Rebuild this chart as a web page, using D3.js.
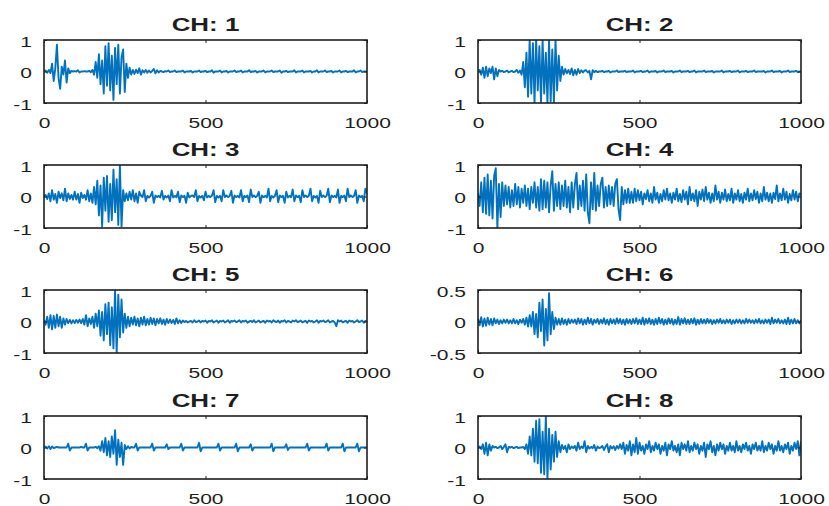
<!DOCTYPE html>
<html>
<head>
<meta charset="utf-8">
<script src="https://cdn.jsdelivr.net/npm/d3@7"></script>
<style>
  body { margin: 0; background: #fff; }
  svg { display: block; font-family: "Liberation Sans", Arial, sans-serif; }
</style>
</head>
<body>
<svg id="chart" width="829" height="506"></svg>
<script>
// one value every 5 samples, samples 0..1000 (201 values per channel)
const sampleStep = 5;

const ch1 = [
  0,.03,-.04,.05,-.05,.25,-.3,.1,.85,-.2,-.55,.15,-.1,.35,-.35,.1,-.05,.02,0,.01,
  0,.04,-.03,0,0,.01,0,0,.02,-.02,.05,-.1,.3,-.2,.55,-.4,.35,-.7,.8,-.45,
  .9,-.6,.5,-.9,.75,-.4,.85,-.7,.45,.7,-.65,.25,-.2,.12,-.1,.05,-.08,.06,-.05,.1,
  -.1,.04,-.03,.05,-.04,.03,-.03,.02,.08,-.06,.04,-.03,.02,0,-.02,.01,0,.03,-.02,0,
  0,.03,-.02,0,0,0,.03,-.03,0,0,0,.02,-.03,0,0,0,.03,-.02,0,0,
  .02,-.02,0,0,.04,-.04,0,0,0,.03,-.03,0,0,.02,-.03,0,0,0,.03,-.02,
  0,0,.03,-.03,0,0,0,.04,-.02,0,0,.02,-.03,0,0,0,.03,-.03,0,0,
  0,.03,-.02,0,0,0,.03,-.04,0,0,.02,-.02,0,0,0,.04,-.03,0,0,0,
  .03,-.03,0,0,0,.02,-.03,0,0,.04,-.03,0,0,0,.03,-.02,0,0,.02,-.03,
  0,0,0,.03,-.03,0,0,.02,-.02,0,0,0,.04,-.03,0,0,.03,-.02,0,0,
  0
];

const ch2 = [
  0,.05,-.1,.12,-.2,.15,-.15,.1,-.05,.15,-.25,.1,-.15,.05,0,.02,-.02,0,.03,-.03,
  0,.02,-.02,0,.05,-.04,.03,-.1,.3,-.5,.6,-.8,1,-.7,.9,-1,1,-.6,.8,-1,
  1,-.7,.6,-1,1,-.95,.7,-1,1,-.6,.5,-.3,.15,-.1,.08,-.06,.05,-.08,.1,-.12,
  .05,-.1,.08,-.05,.04,-.03,.03,.04,-.03,.02,-.25,.04,-.02,.02,-.02,0,0,.02,-.02,0,
  0,.02,-.03,0,0,0,.03,-.02,0,0,0,.02,-.02,0,0,0,.03,-.03,0,0,
  0,.02,-.02,0,0,.03,-.03,0,0,0,.02,-.03,0,0,0,.03,-.02,0,0,0,
  .02,-.03,0,0,0,.03,-.02,0,0,0,.02,-.02,0,0,.03,-.03,0,0,0,0,
  .03,-.02,0,0,0,.02,-.03,0,0,0,0,.03,-.03,0,0,0,.02,-.02,0,0,
  0,.03,-.03,0,0,0,.02,-.02,0,0,0,.03,-.02,0,0,0,0,.02,-.03,0,
  0,0,.03,-.02,0,0,0,.02,-.03,0,0,0,.03,-.02,0,0,0,.02,-.02,0,
  0
];

const ch3 = [
  0,.05,-.08,.1,-.15,.2,-.1,.08,-.2,.15,-.05,.1,-.12,.25,-.15,.1,-.08,.05,-.1,.15,
  -.1,.08,-.2,.12,-.05,.05,-.1,.2,-.15,.1,-.2,.3,-.25,.5,-.6,.35,-.95,.6,-.45,.65,
  -.8,.4,-.75,.85,-.5,.55,-.9,1,-.95,.2,-.15,.1,-.12,.15,-.1,.2,-.15,.1,-.2,.15,
  .03,-.02,.2,-.15,.02,-.03,.02,.15,-.2,.03,-.02,.02,-.03,.18,-.1,.02,-.03,.03,-.15,.2,
  -.03,.02,-.02,.15,-.18,.03,-.02,.02,-.2,.12,-.03,.02,.03,-.02,.2,-.15,.02,-.03,.02,-.12,
  .15,-.03,.02,-.02,.03,.2,-.18,.02,-.03,.02,-.15,.2,-.02,.03,-.02,.02,.18,-.2,.03,-.02,
  .02,-.03,.2,-.15,.02,-.02,.03,-.18,.22,-.02,.03,-.02,.02,.15,-.2,.03,-.02,.02,-.03,.25,
  -.15,.02,-.03,.02,.2,-.18,.03,-.02,.02,-.2,.15,-.03,.02,-.02,.22,-.15,.03,-.02,.02,-.18,
  .2,-.02,.03,-.02,.02,.25,-.15,.02,-.03,.02,-.2,.18,-.02,.03,-.02,.02,.25,-.18,.03,-.02,
  .02,-.03,.22,-.2,.02,-.02,.03,-.15,.25,-.02,.03,-.02,.02,.2,-.2,.03,-.02,.02,-.15,.25,
  .1
];

const ch4 = [
  .1,-.3,.45,-.5,.6,-.55,.7,-.6,.5,-.7,.65,.9,-1,.4,-.65,.45,-.3,.35,-.25,.3,
  -.35,.2,-.3,.4,-.25,.3,-.35,.25,-.2,.35,-.3,.25,-.4,.3,-.2,.45,-.35,.3,-.45,.55,
  -.4,.5,-.35,.45,-.5,.35,.8,-.45,.4,-.3,.45,-.4,.35,-.3,.5,-.35,.3,-.5,.45,-.35,
  .4,.75,-.4,.35,-.3,.5,-.45,.7,-.5,-.85,.45,-.4,.75,-.45,.35,-.3,.4,.6,-.35,.3,
  -.3,.35,-.25,.3,-.3,.4,.55,-.4,-.75,.3,-.25,.2,-.2,.25,-.2,.15,-.2,.25,-.15,.2,
  -.12,.15,-.25,.1,-.08,.2,-.15,.1,-.2,.3,-.1,.12,-.2,.08,-.15,.2,-.1,.25,-.12,.1,
  -.2,.12,-.1,.25,-.15,.08,-.18,.2,-.1,.15,-.25,.3,-.12,.1,-.15,.2,-.3,.15,-.1,.22,
  -.15,.3,-.1,.12,-.2,.1,-.15,.35,-.1,.15,-.2,.12,-.1,.22,-.15,.08,-.12,.25,-.2,.1,
  -.1,.2,-.15,.08,-.2,.12,-.1,.25,-.15,.1,-.12,.2,-.08,.15,-.2,.1,-.15,.3,-.1,.12,
  -.15,.1,-.2,.12,-.08,.35,-.15,.1,-.12,.25,-.1,.15,-.2,.08,-.12,.2,-.1,.15,-.15,.1,
  .05
];

const ch5 = [
  .05,-.1,.15,-.2,.2,-.25,.18,-.2,.22,-.15,.15,-.2,.1,-.1,.08,-.05,.05,-.06,.04,-.05,
  .05,-.04,.06,-.05,.08,-.1,.2,-.15,.1,-.08,.15,-.2,.25,-.15,.35,-.45,.3,-.6,.55,-.4,
  .6,-.75,.45,-.85,1,-1,.85,-.5,.7,-.35,.25,-.2,.15,-.15,.12,-.1,.15,-.12,.1,-.15,
  .12,-.1,.15,-.12,.08,-.1,.12,-.08,.1,-.12,.08,-.06,.1,-.08,.06,-.1,.08,-.05,.06,-.05,
  .05,-.08,.1,-.06,.04,-.05,.03,-.02,.02,-.03,0,.02,-.03,.04,-.02,0,.03,-.03,.02,0,
  .03,-.04,.02,0,.04,-.03,0,.03,-.04,.02,0,.03,-.03,0,.04,-.04,.02,0,.03,-.02,
  0,.04,-.03,.02,0,.03,-.04,0,.02,-.02,.04,-.03,0,.03,-.03,0,.02,-.04,.03,0,
  .02,-.03,.04,0,-.02,.03,-.04,.02,0,.04,-.03,.02,0,-.03,.03,0,.04,-.02,0,.03,
  -.03,0,.02,-.04,.03,0,.02,-.03,0,.04,-.04,.02,0,.03,-.02,0,.04,-.03,0,.02,
  -.03,-.15,.04,0,.03,-.03,0,.02,-.04,.03,0,.02,-.03,0,.04,-.02,0,.03,-.04,.02,
  0
];

const ch6 = [
  .05,-.06,.07,-.08,.05,-.07,.06,-.05,.04,-.06,.05,-.03,.03,-.04,.02,-.03,.03,-.02,.03,-.03,
  .02,-.03,.04,-.03,.02,-.04,.03,-.02,.04,-.05,.06,-.08,.1,-.08,.15,-.2,.12,-.25,.3,-.15,
  .35,-.38,.2,-.3,.45,-.2,.15,-.12,.06,-.05,.04,-.05,.05,-.04,.03,-.05,.04,-.03,.03,-.02,
  .03,-.04,.05,-.03,.04,-.05,.03,-.04,.06,-.03,.04,-.05,.03,-.02,.04,-.04,.03,-.03,.05,-.04,
  .03,-.05,.04,-.03,.03,-.04,.05,-.03,.04,-.04,.03,-.05,.04,-.03,.03,-.04,.04,-.03,.05,-.04,
  .03,-.04,.06,-.05,.04,-.03,.05,-.04,.03,-.05,.04,-.04,.06,-.03,.04,-.05,.03,-.04,.05,-.03,
  .04,-.05,.03,-.04,.07,-.05,.04,-.03,.05,-.04,.03,-.04,.04,-.03,.05,-.05,.03,-.04,.04,-.03,
  .03,-.03,.04,-.02,.03,-.04,.02,-.03,.03,-.02,.04,-.03,.02,-.03,.03,-.02,.03,-.04,.02,-.03,
  .03,-.02,.03,-.03,.02,-.03,.04,-.02,.03,-.02,.02,-.03,.03,-.02,.04,-.03,.02,-.03,.03,-.02,
  .03,-.04,.06,-.03,.03,-.02,.04,-.03,.02,-.03,.03,-.04,.06,-.04,.03,-.03,.04,-.03,.02,-.03,
  .02
];

const ch7 = [
  0,.03,-.03,.04,-.05,.03,-.02,0,.02,0,0,0,0,0,0,.12,-.1,0,0,0,
  0,0,0,.02,0,0,.12,-.1,0,0,0,0,.02,-.02,.04,-.1,.2,-.15,.3,-.25,
  .2,-.3,.35,-.2,.55,-.55,.25,-.3,.15,-.55,.08,-.05,.04,-.03,.02,0,0,.12,-.1,0,
  0,0,0,0,0,0,0,.12,-.1,0,0,0,0,0,0,0,.1,-.05,0,0,
  0,0,0,0,0,.12,-.1,0,0,0,0,0,0,0,0,0,.15,-.12,0,0,
  0,0,0,0,0,0,0,0,.12,-.1,0,0,0,0,0,0,0,0,0,.12,
  -.12,0,0,0,0,0,0,0,.1,-.1,0,0,0,0,0,0,0,0,0,0,
  0,.12,-.12,0,0,0,0,0,0,0,.1,-.08,0,0,0,0,0,0,0,0,
  0,0,0,.12,-.1,0,0,0,0,0,0,0,0,0,0,.12,-.1,0,0,0,
  0,0,0,0,0,.12,-.12,0,0,0,0,0,0,0,.12,-.12,0,0,0,0,
  0
];

const ch8 = [
  0,.03,-.05,.1,-.2,.15,-.25,.1,-.1,.05,0,.02,-.02,0,.05,-.05,.02,.1,-.15,.02,
  0,.02,-.02,0,.02,-.02,0,0,.02,-.05,.1,-.2,.35,-.25,.6,-.45,.85,-.5,.9,-.8,
  .5,-.85,1,-1,.6,-.7,.4,-.45,.5,-.3,.2,-.15,.08,-.05,.05,-.15,.1,-.05,.03,-.02,
  .05,-.1,.15,-.05,.03,-.02,.2,-.15,.05,-.03,.02,-.02,.08,-.1,.03,-.02,0,.05,-.08,.03,
  .1,-.15,.05,-.03,.04,-.08,.05,-.03,.1,-.05,.15,-.2,.08,-.1,.2,-.25,.1,-.15,.3,-.2,
  .15,-.1,.05,-.2,.1,-.05,.2,-.15,.05,-.1,.15,-.05,.1,-.2,.05,-.1,.15,-.25,.1,-.05,
  .2,-.1,.05,-.15,.1,-.25,.15,-.05,.1,-.1,.2,-.15,.05,-.1,.15,-.05,.1,-.2,.05,-.1,
  .15,-.3,.1,-.05,.2,-.15,.05,-.25,.1,-.1,.15,-.05,.1,-.2,.05,-.1,.15,-.1,.05,-.15,
  .2,-.1,.05,-.15,.1,-.05,.15,-.1,.05,-.2,.1,-.05,.15,-.1,.05,-.1,.2,-.15,.05,-.1,
  .15,-.05,.1,-.2,.05,-.1,.2,-.1,.05,-.15,.1,-.05,.15,-.2,.05,-.1,.15,-.05,.2,-.25,
  .2
];

const channels = [ch1, ch2, ch3, ch4, ch5, ch6, ch7, ch8];
const channelNames = ["CH: 1", "CH: 2", "CH: 3", "CH: 4", "CH: 5", "CH: 6", "CH: 7", "CH: 8"];

const xTicks = [0, 500, 1000];
const xTickLabels = ["0", "500", "1000"];
const yTicks = [-1, 0, 1];
const yTickLabels = ["-1", "0", "1"];
// CH: 6 has a smaller range
const yTicksSmall = [-0.5, 0, 0.5];
const yTickLabelsSmall = ["-0.5", "0", "0.5"];

const colLeft = [44, 478];
const rowTop = [40, 165, 290, 416];
const plotW = 323;
const plotH = 63;
const stretch = 1.4; // the source picture is wide in its text
const fontFamily = '"Liberation Sans", Arial, sans-serif';
const inkColor = "#1e1e1e";
const lineColor = "#0072bd";

const svg = d3.select("#chart");

function widen(sel) {
  sel.each(function () {
    const w = this.getComputedTextLength();
    d3.select(this)
      .attr("textLength", w * stretch)
      .attr("lengthAdjust", "spacingAndGlyphs");
  });
}

function styleAxis(g) {
  g.select(".domain").remove();
  g.attr("font-size", 15)
    .attr("font-family", fontFamily)
    .attr("color", inkColor);
  g.selectAll(".tick line").attr("stroke-width", 1);
}

channels.forEach((values, i) => {
  const small = i === 5;
  const ticks = small ? yTicksSmall : yTicks;
  const tickLabels = small ? yTickLabelsSmall : yTickLabels;

  const g = svg
    .append("g")
    .attr(
      "transform",
      `translate(${colLeft[i % 2]},${rowTop[Math.floor(i / 2)]})`
    );

  const x = d3.scaleLinear().domain([0, 1000]).range([0, plotW]);
  const y = d3
    .scaleLinear()
    .domain([ticks[0], ticks[ticks.length - 1]])
    .range([plotH, 0]);

  g.append("clipPath")
    .attr("id", `clip-${i}`)
    .append("rect")
    .attr("width", plotW)
    .attr("height", plotH);

  // signal
  const line = d3
    .line()
    .x((d, k) => x(k * sampleStep))
    .y((d) => y(d));

  g.append("path")
    .datum(values)
    .attr("clip-path", `url(#clip-${i})`)
    .attr("fill", "none")
    .attr("stroke", lineColor)
    .attr("stroke-width", 1.9)
    .attr("stroke-linejoin", "round")
    .attr("d", line);

  // axes, ticks pointing inwards as in MATLAB
  g.append("g")
    .attr("transform", `translate(0,${plotH})`)
    .call(
      d3
        .axisBottom(x)
        .tickValues(xTicks)
        .tickFormat((d, k) => xTickLabels[k])
        .tickSizeInner(-3)
        .tickSizeOuter(0)
        .tickPadding(14.5)
    )
    .call(styleAxis);

  g.append("g")
    .call(
      d3.axisTop(x).tickValues(xTicks).tickFormat("").tickSizeInner(-3).tickSizeOuter(0)
    )
    .call(styleAxis);

  g.append("g")
    .call(
      d3
        .axisLeft(y)
        .tickValues(ticks)
        .tickFormat((d, k) => tickLabels[k])
        .tickSizeInner(-3)
        .tickSizeOuter(0)
        .tickPadding(12)
    )
    .call(styleAxis)
    .selectAll("text")
    .attr("dy", "0.43em");

  g.append("g")
    .attr("transform", `translate(${plotW},0)`)
    .call(
      d3.axisRight(y).tickValues(ticks).tickFormat("").tickSizeInner(-3).tickSizeOuter(0)
    )
    .call(styleAxis);

  // box
  g.append("rect")
    .attr("width", plotW)
    .attr("height", plotH)
    .attr("fill", "none")
    .attr("stroke", inkColor)
    .attr("stroke-width", 1.6);

  g.append("text")
    .attr("class", "title")
    .attr("x", plotW / 2)
    .attr("y", -9)
    .attr("text-anchor", "middle")
    .attr("font-size", 18.5)
    .attr("font-weight", "bold")
    .attr("fill", inkColor)
    .text(channelNames[i]);
});

widen(svg.selectAll("text"));
</script>
</body>
</html>
